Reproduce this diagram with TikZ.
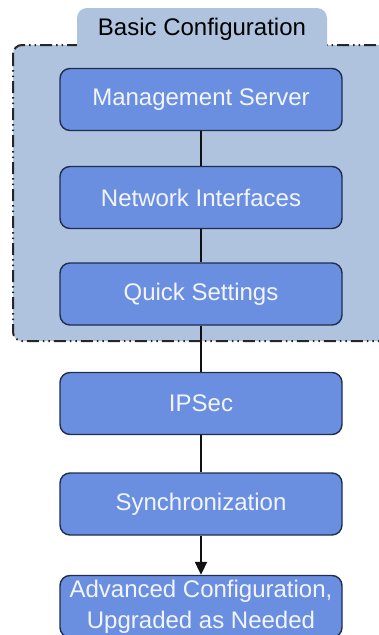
\documentclass[tikz,border=0pt]{standalone}
\usepackage{fontspec}
\setmainfont{Liberation Sans}
\usetikzlibrary{arrows.meta}

\definecolor{groupfill}{HTML}{AFC3DF}
\definecolor{stepfill}{HTML}{6B8FE0}
\definecolor{stepline}{HTML}{1F2D4F}
\definecolor{steptext}{HTML}{F2F5FF}
\definecolor{edgeline}{HTML}{111111}

\tikzset{
  stepbox/.style={draw=stepline, line width=1.4pt, fill=stepfill,
    rounded corners=10pt, minimum width=282pt, minimum height=62pt,
    inner sep=0pt, text=steptext, align=center,
    font=\fontsize{24}{31}\selectfont},
  link/.style={draw=edgeline, line width=2pt},
  grouprim/.style={draw=black!85, line width=2pt,
    dash pattern=on 12pt off 4pt on 1.5pt off 4pt on 1.5pt off 4pt,
    fill=groupfill, rounded corners=9pt},
}

\begin{document}
\begin{tikzpicture}[x=1pt, y=-1pt]
  \useasboundingbox (0,0) rectangle (379,635);
  \clip (0,0) rectangle (379,635);

  % group container with its tab
  \path[grouprim] (13,45) rectangle (395,341);
  \fill[groupfill, rounded corners=10pt] (77,62) rectangle (327,8);
  \node[font=\fontsize{24}{30}\selectfont, text=black] (grouptitle) at (202,29) {Basic Configuration};

  % steps
  \node[stepbox] (ms)   at (201,99.5)  {Management Server};
  \node[stepbox] (ni)   at (201,197.5) {Network Interfaces};
  \node[stepbox] (qs)   at (201,294)   {Quick Settings};
  \node[stepbox] (ips)  at (201,403.5) {IPSec};
  \node[stepbox] (sync) at (201,504)   {Synchronization};
  \node[stepbox] (adv)  at (201,606.5) {Advanced Configuration,\\Upgraded as Needed};

  % connectors
  \draw[link] (ms.south) -- (ni.north);
  \draw[link] (ni.south) -- (qs.north);
  \draw[link] (qs.south) -- (ips.north);
  \draw[link] (ips.south) -- (sync.north);
  \draw[link, -{Triangle[length=13pt, width=12pt]}] (sync.south) -- (adv.north);
\end{tikzpicture}
\end{document}
